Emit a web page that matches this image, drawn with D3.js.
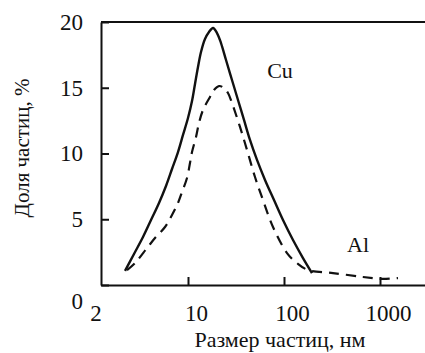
<!DOCTYPE html>
<html>
<head>
<meta charset="utf-8">
<script src="https://cdn.jsdelivr.net/npm/d3@7"></script>
<style>
    body { margin: 0; background: #fff; }
    text { font-family: "Liberation Serif", "DejaVu Serif", serif; fill: #111; }
</style>
</head>
<body>
<script>

// Cu - solid line (size nm, share %)
var cuSize  = [2.207, 2.738, 3.398, 4.117, 4.988, 5.899, 6.813, 7.868, 8.870, 10.0, 11.01, 11.83, 12.71, 13.66, 15.03, 16.55, 18.22,
               20.05, 22.07, 24.89, 28.72, 33.17, 38.31, 44.22, 52.33, 63.41, 78.68, 97.63, 124.1, 157.7, 195.7];
var cuShare = [1.07, 2.36, 3.65, 4.94, 6.24, 7.53, 8.82, 10.11, 11.41, 12.70, 13.99, 15.29, 16.58, 17.72, 18.71, 19.24, 19.54,
               19.16, 18.40, 17.11, 15.59, 14.07, 12.55, 11.03, 9.51, 7.99, 6.46, 4.94, 3.42, 2.05, 0.91];

// Al - dashed line
var alSize  = [2.315, 2.805, 3.741, 4.532, 5.760, 6.813, 7.868, 8.660, 9.763, 10.49, 11.01, 12.12, 13.02, 14.33, 16.95, 18.66, 21.03,
               23.71, 26.10, 28.72, 34.81, 41.17, 49.88, 60.41, 76.82, 107.5, 136.6, 177.8, 323.9, 665.4, 1049, 1540];
var alShare = [1.14, 1.67, 2.81, 3.57, 4.41, 5.32, 6.24, 7.07, 8.14, 9.28, 10.11, 11.26, 12.32, 13.31, 14.30, 14.83, 15.13,
               14.98, 14.60, 13.84, 12.02, 10.27, 8.21, 6.46, 4.41, 2.43, 1.67, 1.14, 0.91, 0.61, 0.46, 0.53];

var xTicks = [10, 100, 1000];
var xTickLabels = ["10", "100", "1000"];
var xOriginLabel = "2";
var yTicks = [0, 5, 10, 15, 20];
var yTickLabels = ["0", "5", "10", "15", "20"];

var w = 425;
var h = 353;

//Set chart margins
var margin = { top: 22, bottom: 68, left: 101, right: 0 };
var width = w - margin.left - margin.right;
var height = h - margin.top - margin.bottom;

//Scales
var x = d3.scaleLog()
    .domain([1.2409, 2943])
    .range([0, width]);

var y = d3.scaleLinear()
    .domain([0, 20])
    .range([height, 0]);

var svg = d3.select("body").append("svg")
    .attr("width", w)
    .attr("height", h);

var chart = svg.append("g")
    .attr("transform", "translate(" + margin.left + "," + margin.top + ")");

//Axes
var xAxis = d3.axisBottom(x)
    .tickValues(xTicks)
    .tickFormat(function(d, i) { return xTickLabels[i]; })
    .tickSizeInner(-8)
    .tickSizeOuter(0)
    .tickPadding(20);

var yAxis = d3.axisLeft(y)
    .tickValues(yTicks)
    .tickFormat(function(d, i) { return yTickLabels[i]; })
    .tickSizeInner(-8)
    .tickSizeOuter(0)
    .tickPadding(18);

var gx = chart.append("g")
    .attr("transform", "translate(0," + height + ")")
    .call(xAxis);

gx.selectAll("text")
    .attr("dx", 8)
    .style("font-size", "23px");

gx.append("text")
    .attr("x", x(x.domain()[0]) - 5)
    .attr("y", 20)
    .attr("dy", "0.71em")
    .attr("text-anchor", "middle")
    .style("font-size", "23px")
    .text(xOriginLabel);

var gy = chart.append("g")
    .call(yAxis);

gy.selectAll("text")
    .style("font-size", "23px")
    .attr("dy", function(d) { return d === 0 ? "1.0em" : "0.32em"; });

svg.selectAll(".domain, .tick line")
    .attr("stroke", "#111")
    .attr("stroke-width", 2);

//Top border
chart.append("line")
    .attr("x1", 0)
    .attr("x2", width)
    .attr("y1", y(20))
    .attr("y2", y(20))
    .attr("stroke", "#111")
    .attr("stroke-width", 2);

//Lines
var line = d3.line()
    .x(function(d) { return x(d[0]); })
    .y(function(d) { return y(d[1]); })
    .curve(d3.curveCatmullRom.alpha(0.5));

chart.append("path")
    .datum(d3.zip(cuSize, cuShare))
    .attr("d", line)
    .attr("fill", "none")
    .attr("stroke", "#111")
    .attr("stroke-width", 2.4);

chart.append("path")
    .datum(d3.zip(alSize, alShare))
    .attr("d", line)
    .attr("fill", "none")
    .attr("stroke", "#111")
    .attr("stroke-width", 2.2)
    .attr("stroke-dasharray", "10,7");

//Labels
chart.append("text")
    .attr("x", 280 - margin.left)
    .attr("y", 78 - margin.top)
    .attr("text-anchor", "middle")
    .style("font-size", "22px")
    .text("Cu");

chart.append("text")
    .attr("x", 358 - margin.left)
    .attr("y", 252 - margin.top)
    .attr("text-anchor", "middle")
    .style("font-size", "22px")
    .text("Al");

//Axis titles
svg.append("text")
    .attr("x", 280)
    .attr("y", 347)
    .attr("text-anchor", "middle")
    .style("font-size", "22px")
    .text("Размер частиц, нм");

svg.append("text")
    .attr("transform", "translate(29,148) rotate(-90)")
    .attr("text-anchor", "middle")
    .style("font-size", "21px")
    .text("Доля частиц, %");

</script>
</body>
</html>
